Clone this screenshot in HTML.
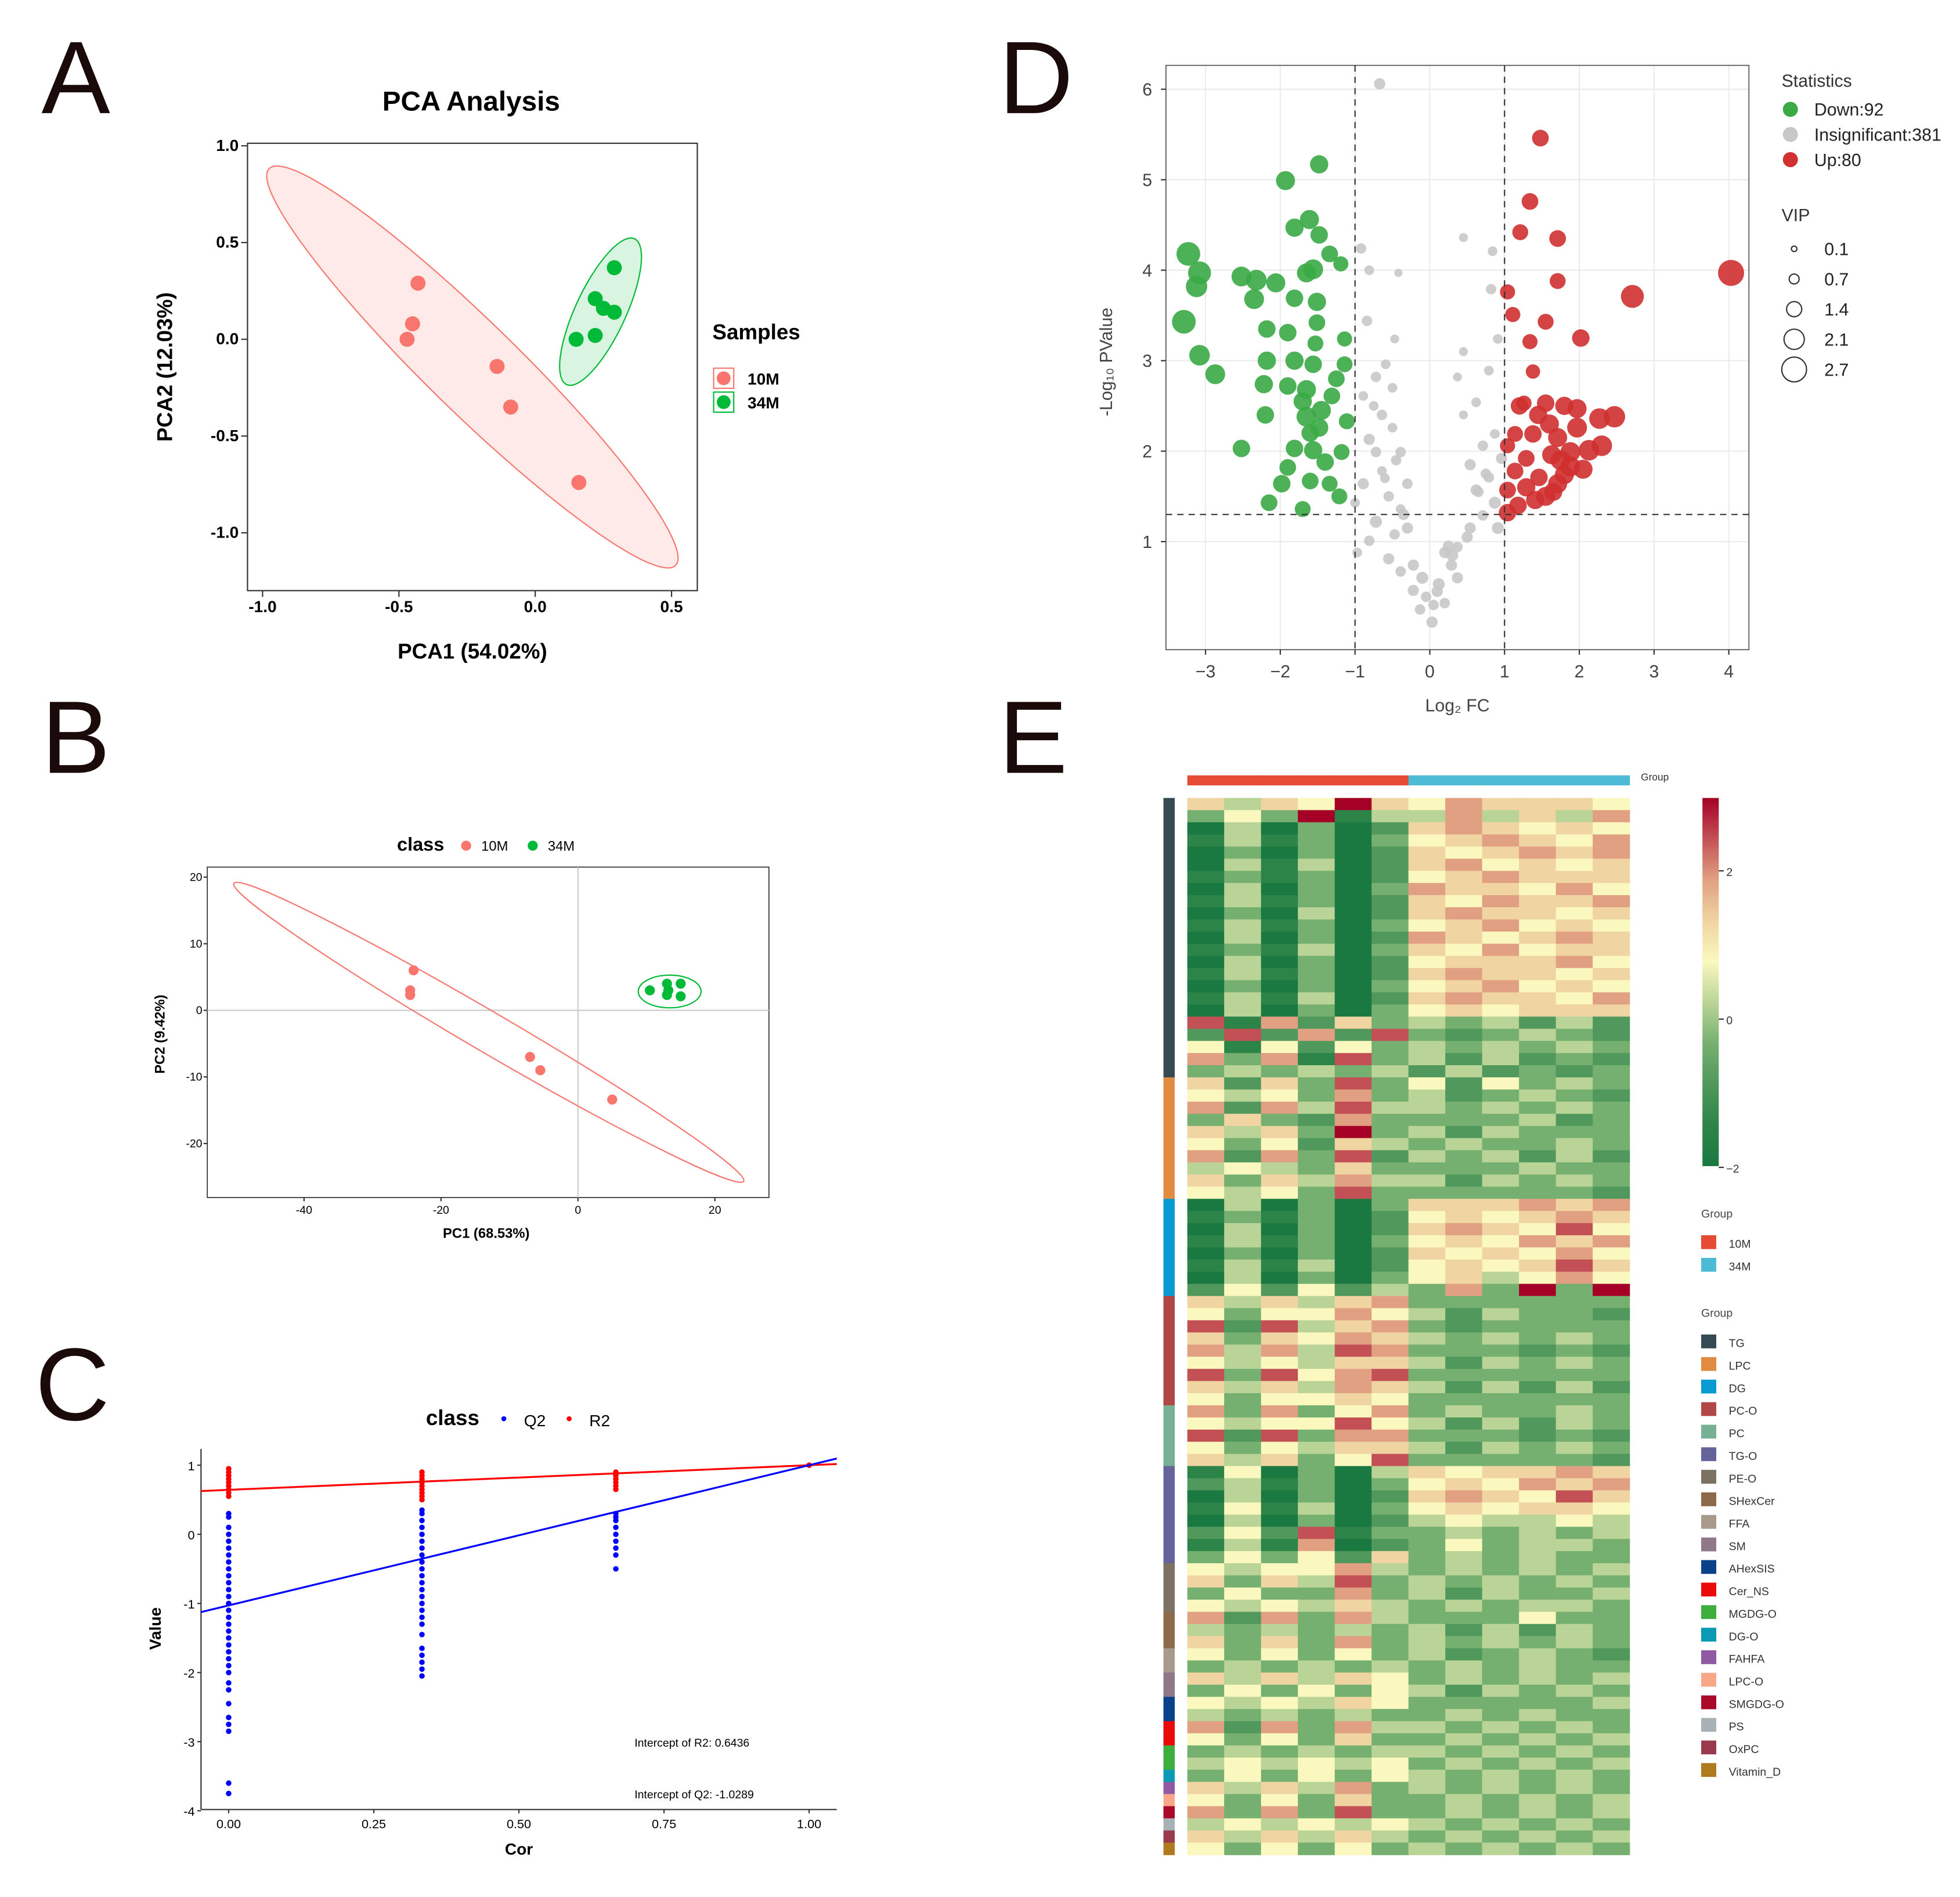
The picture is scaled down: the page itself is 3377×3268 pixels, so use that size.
<!DOCTYPE html>
<html><head><meta charset="utf-8"><style>
html,body{margin:0;padding:0;background:#fff}
svg{display:block;font-family:"Liberation Sans",Arial,sans-serif}
</style></head><body>
<svg id="root" width="3377" height="3268" viewBox="0 0 1560 1509.6" xmlns="http://www.w3.org/2000/svg">
<g font-size="82" fill="#1a0a0a">
<text x="33" y="90">A</text>
<text x="33" y="615">B</text>
<text x="28" y="1130">C</text>
<text x="795" y="90">D</text>
<text x="795" y="615">E</text>
</g>
<g id="pA"></g>
<g id="pB"></g>
<g id="pC"></g>
<g id="pD"></g>
<g id="pE"></g>
</svg>
<script>
// ---------- Panel A data ----------
const aX10 = [-0.43,-0.45,-0.47,-0.14,-0.09,0.16];
const aY10 = [0.29,0.08,0.0,-0.14,-0.35,-0.74];
const aX34 = [0.29,0.22,0.25,0.29,0.22,0.15];
const aY34 = [0.37,0.21,0.16,0.14,0.02,0.0];
const aXTicks = [-1.0,-0.5,0.0,0.5];
const aYTicks = [1.0,0.5,0.0,-0.5,-1.0];
// ---------- Panel B data ----------
const bX10 = [-24,-24.5,-24.5,-7,-5.5,5];
const bY10 = [6,3,2.3,-7,-9,-13.4];
const bX34 = [10.5,13,15,13,15,13.2];
const bY34 = [3,4,4,2.3,2.1,3];
const bXTicks = [-40,-20,0,20];
const bYTicks = [20,10,0,-10,-20];
// ---------- Panel C data ----------
const cQ2x0 = [0.3,0.25,0.1,0,-0.1,-0.2,-0.3,-0.4,-0.5,-0.6,-0.7,-0.8,-0.9,-1.0,-1.1,-1.2,-1.3,-1.4,-1.5,-1.6,-1.7,-1.8,-1.9,-2.0,-2.15,-2.25,-2.45,-2.65,-2.75,-2.85,-3.6,-3.75];
const cR2x0 = [0.95,0.9,0.85,0.8,0.75,0.7,0.65,0.6,0.55];
const cQ2x1 = [0.35,0.3,0.2,0.1,0,-0.1,-0.2,-0.3,-0.4,-0.5,-0.6,-0.7,-0.8,-0.9,-1.0,-1.1,-1.2,-1.3,-1.45,-1.65,-1.75,-1.85,-1.95,-2.05];
const cR2x1 = [0.9,0.85,0.8,0.75,0.7,0.65,0.6,0.55,0.5];
const cQ2x2 = [0.3,0.25,0.2,0.1,0.0,-0.1,-0.2,-0.3,-0.5];
const cR2x2 = [0.9,0.85,0.8,0.75,0.7,0.65];
const cCor = [0,0.333,0.667,1];
const cR2Int = 0.6436, cQ2Int = -1.0289;
const cXTicks = [0,0.25,0.5,0.75,1.0];
const cYTicks = [1,0,-1,-2,-3,-4];
// ---------- Panel D data ----------
const dDownX = [-1.93,-1.48,-3.23,-3.08,-3.12,-3.29,-3.08,-2.87,-2.52,-2.52,-2.32,-2.35,-2.06,-1.81,-1.61,-1.48,-1.34,-1.19,-1.65,-1.56,-1.81,-1.51,-2.18,-2.18,-1.9,-1.51,-1.53,-1.81,-1.56,-1.14,-1.14,-2.22,-1.9,-1.65,-1.31,-2.2,-1.65,-1.48,-1.11,-1.81,-1.56,-1.18,-1.9,-1.4,-1.98,-1.6,-1.34,-2.15,-1.7,-1.21,-1.45,-1.7,-1.25,-1.6];
const dDownY = [4.99,5.17,4.18,3.97,3.82,3.43,3.06,2.85,2.03,3.93,3.89,3.68,3.86,4.47,4.56,4.39,4.18,4.07,3.97,4.01,3.69,3.65,3.35,3.0,3.31,3.42,3.19,3.0,2.96,3.24,2.96,2.74,2.72,2.68,2.61,2.4,2.38,2.26,2.33,2.03,2.01,1.99,1.82,1.88,1.64,1.67,1.64,1.43,1.36,1.5,2.45,2.55,2.8,2.2];
const dDownV = [1.8,1.7,2.4,2.3,2.1,2.4,2.0,1.9,1.6,1.9,2.0,1.9,1.8,1.7,1.8,1.6,1.5,1.3,1.8,1.9,1.6,1.7,1.6,1.7,1.6,1.5,1.4,1.7,1.6,1.3,1.4,1.7,1.6,1.8,1.5,1.6,1.9,1.7,1.4,1.6,1.7,1.4,1.5,1.6,1.6,1.5,1.4,1.5,1.4,1.4,1.8,1.7,1.5,1.6];
const dInsX = [-0.67,-0.92,-0.81,-0.42,0.45,0.84,0.82,-0.47,-0.59,-0.72,-0.89,-0.64,-0.5,-0.81,-0.39,-0.64,-0.89,-0.55,-0.39,-0.72,-0.47,-0.97,-0.55,-0.39,-0.22,-0.13,0.03,0.2,0.12,0.29,0.37,0.54,0.71,0.87,0.62,0.79,0.54,0.71,0.87,0.45,0.62,0.37,0.79,0.45,0.91,-0.84,-0.3,-0.72,-1.0,0.2,-0.05,0.37,-0.3,0.91,0.96,-0.81,-0.22,-0.6,-0.45,0.1,0.3,0.5,0.65,-0.35,-0.1,0.05,0.25,0.75,-0.75,-0.5];
const dInsY = [6.06,4.24,4.0,3.97,4.36,4.21,3.79,3.24,2.96,2.82,2.61,2.4,2.26,2.13,1.99,1.78,1.64,1.5,1.36,1.22,1.08,0.88,0.81,0.67,0.46,0.25,0.11,0.32,0.53,0.74,0.94,1.15,1.29,1.43,1.57,1.71,1.85,2.06,2.19,2.4,2.54,2.82,2.89,3.1,3.24,3.44,1.15,1.99,1.43,0.88,0.39,0.6,1.64,1.15,1.92,1.01,0.74,1.7,1.9,0.45,0.85,1.05,1.55,1.3,0.6,0.3,0.95,1.75,2.5,2.7];
const dInsV = [0.8,0.7,0.6,0.4,0.5,0.6,0.7,0.5,0.6,0.7,0.6,0.7,0.6,0.8,0.7,0.6,0.8,0.7,0.6,0.9,0.7,0.6,0.8,0.7,0.8,0.7,0.8,0.7,0.9,0.8,0.7,0.8,0.7,0.9,0.8,0.7,0.8,0.7,0.6,0.5,0.6,0.5,0.6,0.5,0.6,0.7,0.8,0.7,0.6,0.8,0.7,0.8,0.7,0.9,0.8,0.7,0.8,0.6,0.7,0.8,0.9,0.8,0.7,0.8,0.9,0.7,0.8,0.7,0.6,0.6];
const dUpX = [1.48,1.34,1.21,1.71,4.03,2.71,1.71,1.04,1.11,1.55,2.02,1.34,1.38,1.26,1.55,1.8,1.97,2.27,2.47,1.14,1.38,1.71,1.97,2.3,1.04,1.29,1.63,1.88,2.13,1.14,1.46,1.8,1.04,1.29,1.55,1.18,1.04,1.41,1.71,1.88,1.6,1.45,1.75,2.05,1.2,1.65];
const dUpY = [5.46,4.76,4.42,4.35,3.97,3.71,3.88,3.76,3.51,3.43,3.25,3.21,2.88,2.53,2.53,2.5,2.47,2.36,2.38,2.19,2.19,2.15,2.26,2.06,2.06,1.92,1.96,1.99,2.01,1.78,1.71,1.74,1.57,1.6,1.5,1.4,1.32,1.46,1.64,1.83,2.3,2.4,1.9,1.8,2.5,1.55];
const dUpV = [1.5,1.5,1.4,1.5,2.7,2.3,1.4,1.3,1.3,1.4,1.6,1.3,1.2,1.3,1.6,1.7,1.8,2.0,2.1,1.4,1.6,1.8,1.9,2.0,1.3,1.5,1.8,1.9,2.0,1.5,1.6,1.8,1.5,1.7,1.8,1.6,1.6,1.7,1.8,1.9,1.8,1.7,1.9,1.8,1.6,1.7];
const dXTicks = [-3,-2,-1,0,1,2,3,4];
const dYTicks = [1,2,3,4,5,6];
const dVipLegend = [0.1,0.7,1.4,2.1,2.7];
// ---------- Panel E data ----------
const eRows = [
"646596576665","353914474647","040302676565","141303567657","030302656767","041402675656","131302567666","040303766575","141302657667","030402676656","141303567565","040302765676","131403657566","040302566675","141302676656","030303567565","141402676657","040303565666","817263434242","282728323432","515253434343","737183424232","343434242323",
"626383525343","545373423432","727484434343","363273333423","646393424333","535264343343","727382434242","454363333433","636474424343","545383333332",
"040303666767","131302565676","040302676585","141303565767","030302656575","141402565686","040303564575","252524373939",
"646467333333","535575424332","828467323333","636576434343","747487333232","545466424343","838578333333","646476424242","535565333333",
"737357343343","545585424243","828377333232","535466424343","646358333332",
"150304656676","241303565767","040302676586","151403565665","040302454454","252813343434","141702353443","353526343433",
"545574343434","636483434343","353373424334","545464343443",
"727374333533","434343424243","636373434343",
"535353423432","343434343433","646465343434","353535424343","545465333334","434343343433","727374434343","535363343434","343434434343","454545343434","353535434343","646473434343","535363343434","737383343434","454545434343","646464343434","535353434343"];
const eClasses = ["TG","LPC","DG","PC-O","PC","TG-O","PE-O","SHexCer","FFA","SM","AHexSIS","Cer_NS","MGDG-O","DG-O","FAHFA","LPC-O","SMGDG-O","PS","OxPC","Vitamin_D"];
const eClassRows = [23,10,8,9,5,8,4,3,2,2,2,2,2,1,1,1,1,1,1,1];
const eClassColors = ["#354a52","#e08a42","#0a9ad2","#b04646","#78b096","#66639a","#7c7264","#8c6a4a","#a89a8c","#907888","#0a428a","#ea0a0a","#3eae3e","#0a9ab4","#905aa2","#f8a888","#aa0a2a","#a8b2b6","#9a3a4e","#b07a1e"];
const eGroups = ["10M","34M"];
const eGroupColors = ["#e64b35","#4dbbd5"];
const eColorTicks = [2,0,-2];

const NS="http://www.w3.org/2000/svg";
function mk(parent,tag,attrs,text){const e=document.createElementNS(NS,tag);for(const k in attrs)e.setAttribute(k,attrs[k]);if(text!==undefined)e.textContent=text;parent.appendChild(e);return e;}

// ===== Panel A =====
(function(){
const g=document.getElementById('pA');
const x=v=>426+v*217, y=v=>270-v*154;
const t=mk(g,'text',{x:375,y:88,'font-size':22,'font-weight':'bold','text-anchor':'middle'},'PCA Analysis');


const fr=mk(g,'rect',{x:197,y:114,width:358,height:356,fill:'none',stroke:'#333','stroke-width':1});


aXTicks.forEach(v=>{mk(g,'line',{x1:x(v),x2:x(v),y1:470,y2:475,stroke:'#333'});
const l=mk(g,'text',{x:x(v),y:487,'font-size':13,'font-weight':'bold','text-anchor':'middle'},v.toFixed(1));

});
aYTicks.forEach(v=>{mk(g,'line',{x1:192,x2:197,y1:y(v),y2:y(v),stroke:'#333'});
const l=mk(g,'text',{x:190,y:y(v)+4,'font-size':13,'font-weight':'bold','text-anchor':'end'},v.toFixed(1));

});
const xt=mk(g,'text',{x:376,y:524,'font-size':17,'font-weight':'bold','text-anchor':'middle'},'PCA1 (54.02%)');


const yt=mk(g,'text',{x:0,y:0,'font-size':17,'font-weight':'bold','text-anchor':'middle',transform:'translate(137,292) rotate(-90)'},'PCA2 (12.03%)');


const e1=mk(g,'ellipse',{cx:376,cy:292,rx:226,ry:36,fill:'#f8766d','fill-opacity':0.15,stroke:'#f8766d','stroke-width':1,transform:'rotate(44.3 376 292)'});


const e2=mk(g,'ellipse',{cx:478,cy:248,rx:64,ry:20,fill:'#00ba38','fill-opacity':0.15,stroke:'#00ba38','stroke-width':1,transform:'rotate(-65 478 248)'});


aX10.forEach((v,i)=>{const c=mk(g,'circle',{cx:x(v),cy:y(aY10[i]),r:6,fill:'#f8766d'});

});
aX34.forEach((v,i)=>{const c=mk(g,'circle',{cx:x(v),cy:y(aY34[i]),r:6,fill:'#00ba38'});

});
const lt=mk(g,'text',{x:567,y:270,'font-size':17,'font-weight':'bold'},'Samples');


[['10M','#f8766d',301],['34M','#00ba38',320]].forEach(([n,c,yy])=>{
const r=mk(g,'rect',{x:568,y:yy-8,width:16,height:16,fill:'#fff',stroke:c});
mk(g,'circle',{cx:576,cy:yy,r:5.5,fill:c});


const l=mk(g,'text',{x:595,y:yy+5,'font-size':13,'font-weight':'bold'},n);

});
})();

// ===== Panel B =====
(function(){
const g=document.getElementById('pB');
const x=v=>460+v*5.45, y=v=>804-v*5.3;
const fr=mk(g,'rect',{x:165,y:690,width:447,height:263,fill:'none',stroke:'#333','stroke-width':0.8});


mk(g,'line',{x1:165,x2:612,y1:y(0),y2:y(0),stroke:'#ccc'});
mk(g,'line',{x1:x(0),x2:x(0),y1:690,y2:953,stroke:'#ccc'});
const tt=mk(g,'text',{x:316,y:677,'font-size':15,'font-weight':'bold'},'class');


[['10M','#f8766d',371],['34M','#00ba38',424]].forEach(([n,c,xx])=>{
mk(g,'circle',{cx:xx,cy:673,r:4,fill:c});
const l=mk(g,'text',{x:xx+12,y:677,'font-size':11},n);

});
bXTicks.forEach(v=>{mk(g,'line',{x1:x(v),x2:x(v),y1:953,y2:956,stroke:'#333'});
const l=mk(g,'text',{x:x(v),y:966,'font-size':9,'text-anchor':'middle'},String(v));

});
bYTicks.forEach(v=>{mk(g,'line',{x1:162,x2:165,y1:y(v),y2:y(v),stroke:'#333'});
const l=mk(g,'text',{x:161,y:y(v)+3,'font-size':9,'text-anchor':'end'},String(v));

});
const xt=mk(g,'text',{x:387,y:985,'font-size':11,'font-weight':'bold','text-anchor':'middle'},'PC1 (68.53%)');


const yt=mk(g,'text',{x:0,y:0,'font-size':11,'font-weight':'bold','text-anchor':'middle',transform:'translate(131,823) rotate(-90)'},'PC2 (9.42%)');


const e1=mk(g,'ellipse',{cx:389,cy:821.5,rx:235,ry:16,fill:'none',stroke:'#f8766d','stroke-width':1,transform:'rotate(30.3 389 821.5)'});


const e2=mk(g,'ellipse',{cx:533,cy:789,rx:25,ry:13,fill:'none',stroke:'#00ba38','stroke-width':1});


bX10.forEach((v,i)=>{const c=mk(g,'circle',{cx:x(v),cy:y(bY10[i]),r:4,fill:'#f8766d'});

});
bX34.forEach((v,i)=>{const c=mk(g,'circle',{cx:x(v),cy:y(bY34[i]),r:4,fill:'#00ba38'});

});
})();

// ===== Panel C =====
(function(){
const g=document.getElementById('pC');
const x=v=>182+v*462, y=v=>1221-v*55;
mk(g,'line',{x1:160,x2:666,y1:1440,y2:1440,stroke:'#333'});
mk(g,'line',{x1:160,x2:160,y1:1153,y2:1440,stroke:'#333'});
const tt=mk(g,'text',{x:339,y:1134,'font-size':17,'font-weight':'bold'},'class');


[['Q2','#0000ff',401],['R2','#ff0000',453]].forEach(([n,c,xx])=>{
mk(g,'circle',{cx:xx,cy:1129,r:2,fill:c});
const l=mk(g,'text',{x:xx+16,y:1135,'font-size':13},n);

});
cXTicks.forEach(v=>{mk(g,'line',{x1:x(v),x2:x(v),y1:1440,y2:1443,stroke:'#333'});
const l=mk(g,'text',{x:x(v),y:1455,'font-size':10,'text-anchor':'middle'},v.toFixed(2));

});
cYTicks.forEach(v=>{mk(g,'line',{x1:157,x2:160,y1:y(v),y2:y(v),stroke:'#333'});
const l=mk(g,'text',{x:155,y:y(v)+4,'font-size':10,'text-anchor':'end'},String(v));

});
const xt=mk(g,'text',{x:413,y:1476,'font-size':13,'font-weight':'bold','text-anchor':'middle'},'Cor');


const yt=mk(g,'text',{x:0,y:0,'font-size':13,'font-weight':'bold','text-anchor':'middle',transform:'translate(128,1296) rotate(-90)'},'Value');


const xmin=(160-182)/462, xmax=(666-182)/462;
function dots(arr,cx,col,nm){arr.forEach(v=>{const c=mk(g,'circle',{cx:x(cx),cy:y(v),r:2.2,fill:col});

});}
dots(cQ2x0,cCor[0],'#0000ff','q2-point');dots(cQ2x1,cCor[1],'#0000ff','q2-point');dots(cQ2x2,cCor[2],'#0000ff','q2-point');dots([1],cCor[3],'#0000ff','q2-point');
dots(cR2x0,cCor[0],'#ff0000','r2-point');dots(cR2x1,cCor[1],'#ff0000','r2-point');dots(cR2x2,cCor[2],'#ff0000','r2-point');dots([1],cCor[3],'#ff0000','r2-point');
const lr=mk(g,'line',{x1:x(xmin),y1:y(cR2Int+(1-cR2Int)*xmin),x2:x(xmax),y2:y(cR2Int+(1-cR2Int)*xmax),stroke:'#ff0000','stroke-width':1.5});


const lq=mk(g,'line',{x1:x(xmin),y1:y(cQ2Int+(1-cQ2Int)*xmin),x2:x(xmax),y2:y(cQ2Int+(1-cQ2Int)*xmax),stroke:'#0000ff','stroke-width':1.5});


const a1=mk(g,'text',{x:505,y:1390,'font-size':9},'Intercept of R2: '+cR2Int.toFixed(4));


const a2=mk(g,'text',{x:505,y:1431,'font-size':9},'Intercept of Q2: '+cQ2Int.toFixed(4));


})();

// ===== Panel D =====
(function(){
const g=document.getElementById('pD');
const x=v=>1138+v*59.5, y=v=>503-v*72, r=v=>2+3.1*v;
dXTicks.forEach(v=>mk(g,'line',{x1:x(v),x2:x(v),y1:52,y2:517,stroke:'#ebebeb'}));
dYTicks.forEach(v=>mk(g,'line',{x1:928,x2:1392,y1:y(v),y2:y(v),stroke:'#ebebeb'}));
const fr=mk(g,'rect',{x:928,y:52,width:464,height:465,fill:'none',stroke:'#555','stroke-width':0.8});


dXTicks.forEach(v=>{mk(g,'line',{x1:x(v),x2:x(v),y1:517,y2:521,stroke:'#333'});
const l=mk(g,'text',{x:x(v),y:539,'font-size':14,'text-anchor':'middle',fill:'#444'},v<0?'\u2212'+(-v):String(v));

});
dYTicks.forEach(v=>{mk(g,'line',{x1:924,x2:928,y1:y(v),y2:y(v),stroke:'#333'});
const l=mk(g,'text',{x:917,y:y(v)+5,'font-size':14,'text-anchor':'end',fill:'#444'},String(v));

});
const xt=mk(g,'text',{x:1160,y:566,'font-size':14,'text-anchor':'middle',fill:'#444'},'Log\u2082 FC');


const yt=mk(g,'text',{x:0,y:0,'font-size':14,'text-anchor':'middle',fill:'#444',transform:'translate(885,288) rotate(-90)'},'-Log\u2081\u2080 PValue');


function pts(X,Y,V,col,nm){X.forEach((v,i)=>{const c=mk(g,'circle',{cx:x(v),cy:y(Y[i]),r:r(V[i]),fill:col,'fill-opacity':0.9});

});}
pts(dInsX,dInsY,dInsV,'#c8c8c8','insignificant-point');
pts(dDownX,dDownY,dDownV,'#3aaa45','down-point');
pts(dUpX,dUpY,dUpV,'#d03030','up-point');
[-1,1].forEach(v=>{const l=mk(g,'line',{x1:x(v),x2:x(v),y1:52,y2:517,stroke:'#333','stroke-dasharray':'5,4'});

});
const h=mk(g,'line',{x1:928,x2:1392,y1:y(1.3),y2:y(1.3),stroke:'#333','stroke-dasharray':'5,4'});


const st=mk(g,'text',{x:1418,y:69,'font-size':14,fill:'#333'},'Statistics');


[['Down:92','#3aaa45',87],['Insignificant:381','#c8c8c8',107],['Up:80','#d03030',127]].forEach(([n,c,yy])=>{
mk(g,'circle',{cx:1425,cy:yy,r:6,fill:c});
const l=mk(g,'text',{x:1444,y:yy+5,'font-size':14,fill:'#222'},n);

});
const vt=mk(g,'text',{x:1418,y:176,'font-size':14,fill:'#333'},'VIP');


dVipLegend.forEach((v,i)=>{const yy=198+i*24;
mk(g,'circle',{cx:1428,cy:yy,r:r(v)*0.95,fill:'none',stroke:'#333','stroke-width':1});
const l=mk(g,'text',{x:1452,y:yy+5,'font-size':14,fill:'#222'},String(v));

});
})();

// ===== Panel E =====
(function(){
const g=document.getElementById('pE');
const X0=945,X1=1297,Y0=635,Y1=1476;
const nC=eRows[0].length, nR=eRows.length;
const cw=(X1-X0)/nC, rh=(Y1-Y0)/nR;
const stops=[[26,120,65],[45,132,72],[80,152,92],[118,176,112],[185,212,150],[250,248,190],[240,212,162],[225,160,130],[195,80,85],[165,0,38]];
const col=d=>{const s=stops[d];return 'rgb('+s[0]+','+s[1]+','+s[2]+')';};
for(let c=0;c<nC;c++){const gi=c<nC/2?0:1;
const b=mk(g,'rect',{x:X0+c*cw,y:617,width:cw+0.3,height:8,fill:eGroupColors[gi]});

}
mk(g,'text',{x:1306,y:621,'font-size':8,fill:'#333'},'Group');
eRows.forEach((row,ri)=>{for(let c=0;c<nC;c++){
const cell=mk(g,'rect',{x:X0+c*cw,y:Y0+ri*rh,width:cw+0.3,height:rh+0.3,fill:col(+row[c])});

}});
let acc=0;
eClassRows.forEach((n,i)=>{const b=mk(g,'rect',{x:926,y:Y0+acc*rh,width:9,height:n*rh+0.3,fill:eClassColors[i]});

acc+=n;});
const gr=mk(g,'defs',{});
const lg=mk(gr,'linearGradient',{id:'cb',x1:0,y1:0,x2:0,y2:1});
for(let i=0;i<10;i++)mk(lg,'stop',{offset:(i/9),'stop-color':col(9-i)});
const cbar=mk(g,'rect',{x:1355,y:635,width:13,height:293,fill:'url(#cb)'});


const cy=v=>811-v*59;
eColorTicks.forEach(v=>{mk(g,'line',{x1:1368,x2:1372,y1:cy(v),y2:cy(v),stroke:'#333'});
const l=mk(g,'text',{x:1374,y:cy(v)+4,'font-size':9,fill:'#333'},v<0?'\u2212'+(-v):String(v));

});
const g1=mk(g,'text',{x:1354,y:969,'font-size':9,fill:'#444'},'Group');


eGroups.forEach((n,i)=>{const yy=989+i*18;
mk(g,'rect',{x:1354,y:yy-6,width:12,height:11,fill:eGroupColors[i]});
const l=mk(g,'text',{x:1376,y:yy+4,'font-size':9,fill:'#333'},n);

});
const g2=mk(g,'text',{x:1354,y:1048,'font-size':9,fill:'#444'},'Group');


eClasses.forEach((n,i)=>{const yy=1068+i*17.95;
mk(g,'rect',{x:1354,y:yy-6,width:12,height:11,fill:eClassColors[i]});
const l=mk(g,'text',{x:1376,y:yy+4,'font-size':9,fill:'#333'},n);

});
})();
</script>
</body></html>
